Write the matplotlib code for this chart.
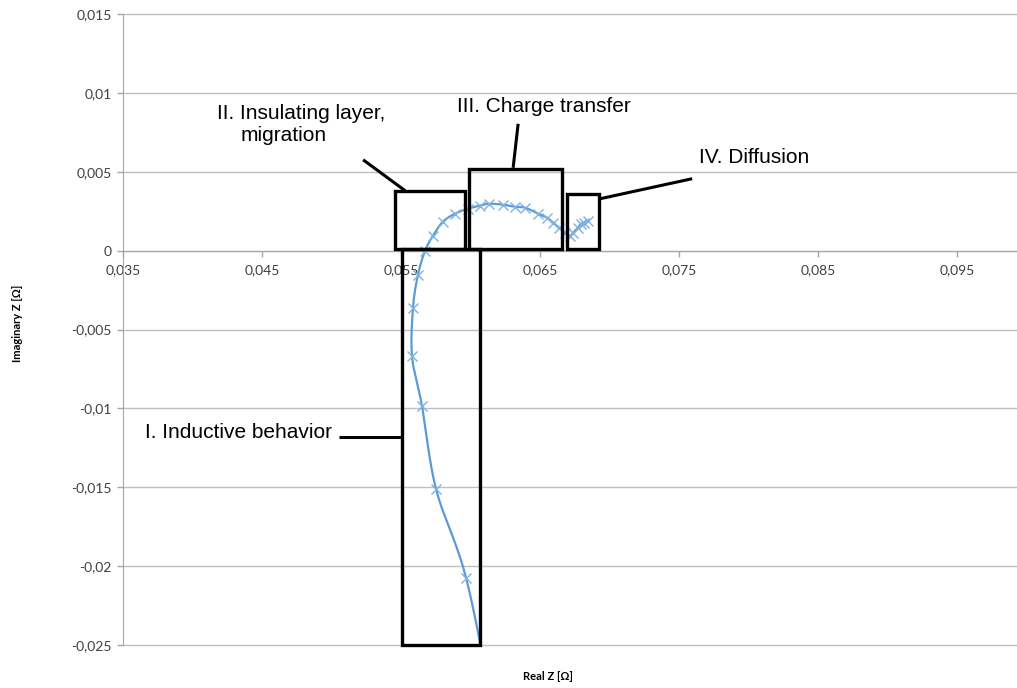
import numpy as np
import matplotlib
matplotlib.use("Agg")
from matplotlib import pyplot as plt
from matplotlib.patches import Rectangle
from matplotlib.ticker import FuncFormatter, FixedLocator

# impedance spectrum, ordered from high to low frequency
z_real = [0.0617, 0.05968, 0.05752, 0.05651, 0.05579, 0.05586, 0.05622, 0.05673,
          0.05730, 0.05802, 0.05888, 0.05982, 0.06068, 0.06133, 0.06234, 0.06320,
          0.06392, 0.06486, 0.06550, 0.06594, 0.06637, 0.06680, 0.06716, 0.06738,
          0.06773, 0.06795, 0.06817, 0.06845]
z_imag = [-0.0295, -0.02076, -0.01513, -0.00987, -0.00671, -0.00361, -0.00152, 0.0,
          0.00095, 0.00184, 0.00234, 0.00266, 0.00285, 0.00297, 0.00291, 0.00278,
          0.00272, 0.00234, 0.00209, 0.00177, 0.00146, 0.00114, 0.00095, 0.00114,
          0.00146, 0.00171, 0.00177, 0.0019]

x_ticks = [0.035, 0.045, 0.055, 0.065, 0.075, 0.085, 0.095]
y_ticks = [-0.025, -0.02, -0.015, -0.01, -0.005, 0.0, 0.005, 0.01, 0.015]

# regions: (label, x0, x1, y0, y1)
regions = [
    ("I. Inductive behavior", 0.05507, 0.06068, -0.025, 0.0001),
    ("II. Insulating layer", 0.05457, 0.05960, 0.00013, 0.00380),
    ("III. Charge transfer", 0.05989, 0.06658, 0.00013, 0.00519),
    ("IV. Diffusion", 0.06694, 0.06924, 0.00013, 0.00361),
]


def smooth(x, y, n=20):
    # catmull-rom spline through the points, like a spreadsheet "smoothed line"
    p = np.column_stack([x, y])
    p = np.vstack([p[0], p, p[-1]])
    out = []
    t = np.linspace(0, 1, n, endpoint=False)[:, None]
    for i in range(1, len(p) - 2):
        p0, p1, p2, p3 = p[i - 1], p[i], p[i + 1], p[i + 2]
        seg = 0.5 * ((2 * p1) + (-p0 + p2) * t + (2 * p0 - 5 * p1 + 4 * p2 - p3) * t**2
                     + (-p0 + 3 * p1 - 3 * p2 + p3) * t**3)
        out.append(seg)
    out.append(p[-2][None, :])
    out = np.vstack(out)
    return out[:, 0], out[:, 1]


fig = plt.figure(figsize=(10.17, 6.88), dpi=100)
ax = fig.add_axes([123 / 1017, (688 - 645) / 688, (1017 - 123) / 1017, (645 - 14) / 688])

sx, sy = smooth(z_real, z_imag)
ax.plot(sx, sy, color="#5B9BD5", lw=1.6, zorder=3)
ax.plot(z_real, z_imag, ls="none", marker="x", ms=7, mew=1, color="#7FB2E0", zorder=4)

ax.set_xlim(0.035, 0.0993)
ax.set_ylim(-0.025, 0.015)
ax.xaxis.set_major_locator(FixedLocator(x_ticks))
ax.yaxis.set_major_locator(FixedLocator(y_ticks))

fmt = FuncFormatter(lambda v, pos: ("%g" % (round(v, 4) + 0.0)).replace(".", ","))
ax.xaxis.set_major_formatter(fmt)
ax.yaxis.set_major_formatter(fmt)

ax.yaxis.grid(True, color="#BFBFBF", lw=1)
for gl in ax.get_ygridlines():
    gl.set_clip_on(False)
ax.set_axisbelow(True)
for s in ["top", "right"]:
    ax.spines[s].set_visible(False)
ax.spines["bottom"].set_position(("data", 0))
ax.spines["bottom"].set_color("#A6A6A6")
ax.spines["left"].set_color("#A6A6A6")
ax.tick_params(axis="both", colors="#A6A6A6", labelcolor="#404040", labelsize=10,
               length=4, width=1)
ax.tick_params(axis="x", pad=6)
ax.tick_params(axis="y", pad=4)
for lab in ax.get_xticklabels() + ax.get_yticklabels():
    lab.set_family(["Lato", "DejaVu Sans"])

# boxes around each region
for name, x0, x1, y0, y1 in regions:
    ax.add_patch(Rectangle((x0, y0), x1 - x0, y1 - y0, fill=False, ec="black",
                           lw=2.4, zorder=5, clip_on=False))

# leader lines
leaders = [
    ((0.05054, 0.05507), (-0.01184, -0.01184)),
    ((0.05227, 0.05529), (0.00576, 0.00380)),
    ((0.06342, 0.06306), (0.00804, 0.00525)),
    ((0.06932, 0.07594), (0.00329, 0.00456)),
]
for lx, ly in leaders:
    ax.plot(lx, ly, color="black", lw=2.2, zorder=5, solid_capstyle="butt")

tk = dict(fontsize=15, family="Liberation Sans", color="black", zorder=6)
ax.text(0.03658, -0.01152, "I. Inductive behavior", va="center", ha="left", **tk)
ax.text(0.04176, 0.00835, "II. Insulating layer,", va="baseline", ha="left", **tk)
ax.text(0.04349, 0.00696, "migration", va="baseline", ha="left", **tk)
ax.text(0.05903, 0.00880, "III. Charge transfer", va="baseline", ha="left", **tk)
ax.text(0.07644, 0.00557, "IV. Diffusion", va="baseline", ha="left", **tk)

lk = dict(fontsize=8, fontweight="bold", family=["Lato", "DejaVu Sans"], color="black")
fig.text(548 / 1017, 1 - 676 / 688, "Real Z [Ω]", ha="center", va="center", **lk)
fig.text(18 / 1017, 1 - 323 / 688, "Imaginary Z [Ω]", ha="center", va="center",
         rotation=90, **lk)

fig.savefig("out.png", dpi=100, facecolor="white")
